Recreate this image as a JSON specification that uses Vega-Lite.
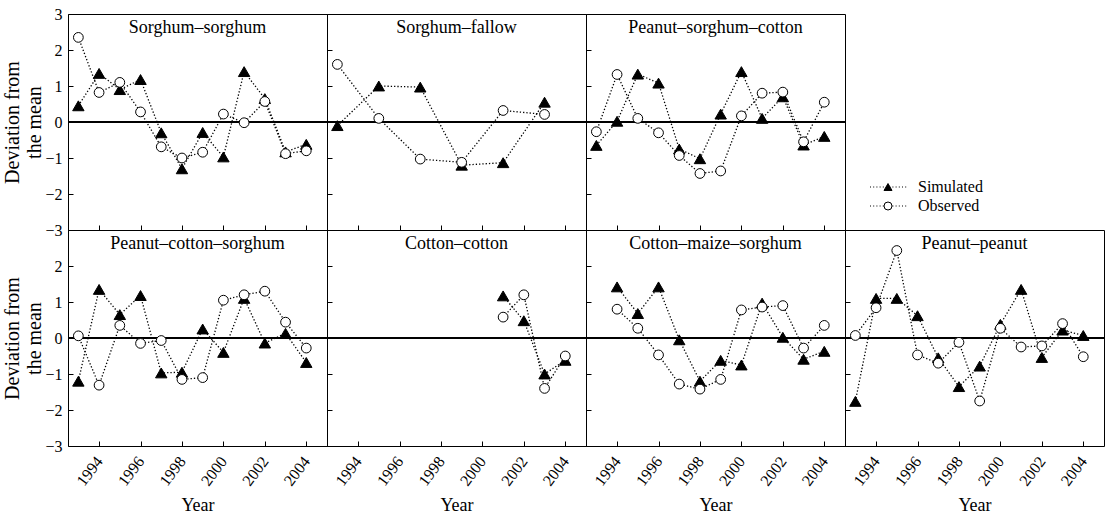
{
  "$schema": "https://vega.github.io/schema/vega-lite/v6.json",
  "padding": {"left": 2, "top": 5, "right": 0, "bottom": 0},
  "background": "white",
  "data": {"values": [
    {"rotation": "Sorghum–sorghum", "year": 1993, "Simulated": 0.45, "Observed": 2.35},
    {"rotation": "Sorghum–sorghum", "year": 1994, "Simulated": 1.35, "Observed": 0.82},
    {"rotation": "Sorghum–sorghum", "year": 1995, "Simulated": 0.9, "Observed": 1.1},
    {"rotation": "Sorghum–sorghum", "year": 1996, "Simulated": 1.18, "Observed": 0.28},
    {"rotation": "Sorghum–sorghum", "year": 1997, "Simulated": -0.3, "Observed": -0.69},
    {"rotation": "Sorghum–sorghum", "year": 1998, "Simulated": -1.3, "Observed": -1.0},
    {"rotation": "Sorghum–sorghum", "year": 1999, "Simulated": -0.29, "Observed": -0.84},
    {"rotation": "Sorghum–sorghum", "year": 2000, "Simulated": -0.97, "Observed": 0.22},
    {"rotation": "Sorghum–sorghum", "year": 2001, "Simulated": 1.4, "Observed": -0.02},
    {"rotation": "Sorghum–sorghum", "year": 2002, "Simulated": 0.65, "Observed": 0.57},
    {"rotation": "Sorghum–sorghum", "year": 2003, "Simulated": -0.83, "Observed": -0.88},
    {"rotation": "Sorghum–sorghum", "year": 2004, "Simulated": -0.62, "Observed": -0.8},
    {"rotation": "Sorghum–fallow", "year": 1993, "Simulated": -0.1, "Observed": 1.6},
    {"rotation": "Sorghum–fallow", "year": 1995, "Simulated": 1.0, "Observed": 0.1},
    {"rotation": "Sorghum–fallow", "year": 1997, "Simulated": 0.97, "Observed": -1.03},
    {"rotation": "Sorghum–fallow", "year": 1999, "Simulated": -1.2, "Observed": -1.12},
    {"rotation": "Sorghum–fallow", "year": 2001, "Simulated": -1.13, "Observed": 0.32},
    {"rotation": "Sorghum–fallow", "year": 2003, "Simulated": 0.55, "Observed": 0.21},
    {"rotation": "Peanut–sorghum–cotton", "year": 1993, "Simulated": -0.65, "Observed": -0.27},
    {"rotation": "Peanut–sorghum–cotton", "year": 1994, "Simulated": 0.02, "Observed": 1.32},
    {"rotation": "Peanut–sorghum–cotton", "year": 1995, "Simulated": 1.33, "Observed": 0.1},
    {"rotation": "Peanut–sorghum–cotton", "year": 1996, "Simulated": 1.08, "Observed": -0.3},
    {"rotation": "Peanut–sorghum–cotton", "year": 1997, "Simulated": -0.75, "Observed": -0.93},
    {"rotation": "Peanut–sorghum–cotton", "year": 1998, "Simulated": -1.02, "Observed": -1.43},
    {"rotation": "Peanut–sorghum–cotton", "year": 1999, "Simulated": 0.22, "Observed": -1.36},
    {"rotation": "Peanut–sorghum–cotton", "year": 2000, "Simulated": 1.4, "Observed": 0.17},
    {"rotation": "Peanut–sorghum–cotton", "year": 2001, "Simulated": 0.1, "Observed": 0.8},
    {"rotation": "Peanut–sorghum–cotton", "year": 2002, "Simulated": 0.7, "Observed": 0.83},
    {"rotation": "Peanut–sorghum–cotton", "year": 2003, "Simulated": -0.64, "Observed": -0.55},
    {"rotation": "Peanut–sorghum–cotton", "year": 2004, "Simulated": -0.4, "Observed": 0.55},
    {"rotation": "Peanut–cotton–sorghum", "year": 1993, "Simulated": -1.2, "Observed": 0.06},
    {"rotation": "Peanut–cotton–sorghum", "year": 1994, "Simulated": 1.35, "Observed": -1.31},
    {"rotation": "Peanut–cotton–sorghum", "year": 1995, "Simulated": 0.65, "Observed": 0.35},
    {"rotation": "Peanut–cotton–sorghum", "year": 1996, "Simulated": 1.18, "Observed": -0.15},
    {"rotation": "Peanut–cotton–sorghum", "year": 1997, "Simulated": -0.97, "Observed": -0.07},
    {"rotation": "Peanut–cotton–sorghum", "year": 1998, "Simulated": -0.95, "Observed": -1.15},
    {"rotation": "Peanut–cotton–sorghum", "year": 1999, "Simulated": 0.25, "Observed": -1.1},
    {"rotation": "Peanut–cotton–sorghum", "year": 2000, "Simulated": -0.4, "Observed": 1.05},
    {"rotation": "Peanut–cotton–sorghum", "year": 2001, "Simulated": 1.1, "Observed": 1.2},
    {"rotation": "Peanut–cotton–sorghum", "year": 2002, "Simulated": -0.14, "Observed": 1.3},
    {"rotation": "Peanut–cotton–sorghum", "year": 2003, "Simulated": 0.13, "Observed": 0.44},
    {"rotation": "Peanut–cotton–sorghum", "year": 2004, "Simulated": -0.68, "Observed": -0.28},
    {"rotation": "Cotton–cotton", "year": 2001, "Simulated": 1.17, "Observed": 0.58},
    {"rotation": "Cotton–cotton", "year": 2002, "Simulated": 0.48, "Observed": 1.2},
    {"rotation": "Cotton–cotton", "year": 2003, "Simulated": -1.0, "Observed": -1.4},
    {"rotation": "Cotton–cotton", "year": 2004, "Simulated": -0.62, "Observed": -0.5},
    {"rotation": "Cotton–maize–sorghum", "year": 1994, "Simulated": 1.42, "Observed": 0.8},
    {"rotation": "Cotton–maize–sorghum", "year": 1995, "Simulated": 0.68, "Observed": 0.27},
    {"rotation": "Cotton–maize–sorghum", "year": 1996, "Simulated": 1.42, "Observed": -0.47},
    {"rotation": "Cotton–maize–sorghum", "year": 1997, "Simulated": -0.05, "Observed": -1.28},
    {"rotation": "Cotton–maize–sorghum", "year": 1998, "Simulated": -1.2, "Observed": -1.42},
    {"rotation": "Cotton–maize–sorghum", "year": 1999, "Simulated": -0.62, "Observed": -1.15},
    {"rotation": "Cotton–maize–sorghum", "year": 2000, "Simulated": -0.75, "Observed": 0.78},
    {"rotation": "Cotton–maize–sorghum", "year": 2001, "Simulated": 0.97, "Observed": 0.86},
    {"rotation": "Cotton–maize–sorghum", "year": 2002, "Simulated": 0.02, "Observed": 0.9},
    {"rotation": "Cotton–maize–sorghum", "year": 2003, "Simulated": -0.59, "Observed": -0.28},
    {"rotation": "Cotton–maize–sorghum", "year": 2004, "Simulated": -0.37, "Observed": 0.35},
    {"rotation": "Peanut–peanut", "year": 1993, "Simulated": -1.76, "Observed": 0.07},
    {"rotation": "Peanut–peanut", "year": 1994, "Simulated": 1.1, "Observed": 0.84},
    {"rotation": "Peanut–peanut", "year": 1995, "Simulated": 1.1, "Observed": 2.43},
    {"rotation": "Peanut–peanut", "year": 1996, "Simulated": 0.62, "Observed": -0.47},
    {"rotation": "Peanut–peanut", "year": 1997, "Simulated": -0.55, "Observed": -0.7},
    {"rotation": "Peanut–peanut", "year": 1998, "Simulated": -1.35, "Observed": -0.12},
    {"rotation": "Peanut–peanut", "year": 1999, "Simulated": -0.78, "Observed": -1.75},
    {"rotation": "Peanut–peanut", "year": 2000, "Simulated": 0.38, "Observed": 0.27},
    {"rotation": "Peanut–peanut", "year": 2001, "Simulated": 1.35, "Observed": -0.25},
    {"rotation": "Peanut–peanut", "year": 2002, "Simulated": -0.54, "Observed": -0.22},
    {"rotation": "Peanut–peanut", "year": 2003, "Simulated": 0.22, "Observed": 0.4},
    {"rotation": "Peanut–peanut", "year": 2004, "Simulated": 0.07, "Observed": -0.52}
  ]},
  "transform": [{"fold": ["Simulated", "Observed"], "as": ["series", "value"]}],
  "columns": 4,
  "spacing": 0,
  "bounds": "flush",
  "concat": [
    {
      "width": 259, "height": 216,
      "transform": [{"filter": {"field": "rotation", "equal": "Sorghum–sorghum"}}],
      "layer": [
        {"mark": {"type": "rule", "color": "black", "strokeWidth": 1}, "encoding": {"y": {"datum": 0}}},
        {"mark": {"type": "line", "color": "black", "strokeDash": [1.3, 2], "strokeWidth": 1.3},
         "encoding": {
           "x": {"field": "year", "type": "quantitative", "scale": {"domain": [1992.5, 2005], "nice": false, "zero": false},
                 "axis": {"values": [1994, 1996, 1998, 2000, 2002, 2004], "labels": false, "title": null}},
           "y": {"field": "value", "type": "quantitative", "scale": {"domain": [-3, 3], "nice": false},
                 "axis": {"values": [-3, -2, -1, 0, 1, 2, 3], "tickCount": 20, "format": "d", "title": ["Deviation from", "the mean"]}},
           "detail": {"field": "series"}}},
        {"mark": {"type": "point", "stroke": "black", "strokeWidth": 1, "opacity": 1},
         "encoding": {
           "x": {"field": "year", "type": "quantitative"},
           "y": {"field": "value", "type": "quantitative"},
           "shape": {"field": "series", "type": "nominal", "scale": {"domain": ["Simulated", "Observed"], "range": ["triangle-up", "circle"]}, "legend": null},
           "fill": {"field": "series", "type": "nominal", "scale": {"domain": ["Simulated", "Observed"], "range": ["black", "white"]}, "legend": null},
           "size": {"field": "series", "type": "ordinal", "scale": {"domain": ["Observed", "Simulated"], "range": [95, 130]}, "legend": null}}},
        {"transform": [{"aggregate": [{"op": "count", "as": "n"}], "groupby": ["rotation"]}],
         "mark": {"type": "text", "fontSize": 18, "baseline": "top", "align": "center", "dy": 5, "color": "black"},
         "encoding": {"x": {"datum": 1998.75, "type": "quantitative"}, "y": {"datum": 3, "type": "quantitative"}, "text": {"field": "rotation"}}}
      ]
    },
    {
      "width": 259, "height": 216,
      "transform": [{"filter": {"field": "rotation", "equal": "Sorghum–fallow"}}],
      "layer": [
        {"mark": {"type": "rule", "color": "black", "strokeWidth": 1}, "encoding": {"y": {"datum": 0}}},
        {"mark": {"type": "line", "color": "black", "strokeDash": [1.3, 2], "strokeWidth": 1.3},
         "encoding": {
           "x": {"field": "year", "type": "quantitative", "scale": {"domain": [1992.5, 2005], "nice": false, "zero": false},
                 "axis": {"values": [1994, 1996, 1998, 2000, 2002, 2004], "labels": false, "title": null}},
           "y": {"field": "value", "type": "quantitative", "scale": {"domain": [-3, 3], "nice": false},
                 "axis": {"values": [-3, -2, -1, 0, 1, 2, 3], "tickCount": 20, "labels": false, "title": null}},
           "detail": {"field": "series"}}},
        {"mark": {"type": "point", "stroke": "black", "strokeWidth": 1, "opacity": 1},
         "encoding": {
           "x": {"field": "year", "type": "quantitative"},
           "y": {"field": "value", "type": "quantitative"},
           "shape": {"field": "series", "type": "nominal", "scale": {"domain": ["Simulated", "Observed"], "range": ["triangle-up", "circle"]}, "legend": null},
           "fill": {"field": "series", "type": "nominal", "scale": {"domain": ["Simulated", "Observed"], "range": ["black", "white"]}, "legend": null},
           "size": {"field": "series", "type": "ordinal", "scale": {"domain": ["Observed", "Simulated"], "range": [95, 130]}, "legend": null}}},
        {"transform": [{"aggregate": [{"op": "count", "as": "n"}], "groupby": ["rotation"]}],
         "mark": {"type": "text", "fontSize": 18, "baseline": "top", "align": "center", "dy": 5, "color": "black"},
         "encoding": {"x": {"datum": 1998.75, "type": "quantitative"}, "y": {"datum": 3, "type": "quantitative"}, "text": {"field": "rotation"}}}
      ]
    },
    {
      "width": 259, "height": 216,
      "transform": [{"filter": {"field": "rotation", "equal": "Peanut–sorghum–cotton"}}],
      "layer": [
        {"mark": {"type": "rule", "color": "black", "strokeWidth": 1}, "encoding": {"y": {"datum": 0}}},
        {"mark": {"type": "line", "color": "black", "strokeDash": [1.3, 2], "strokeWidth": 1.3},
         "encoding": {
           "x": {"field": "year", "type": "quantitative", "scale": {"domain": [1992.5, 2005], "nice": false, "zero": false},
                 "axis": {"values": [1994, 1996, 1998, 2000, 2002, 2004], "labels": false, "title": null}},
           "y": {"field": "value", "type": "quantitative", "scale": {"domain": [-3, 3], "nice": false},
                 "axis": {"values": [-3, -2, -1, 0, 1, 2, 3], "tickCount": 20, "labels": false, "title": null}},
           "detail": {"field": "series"}}},
        {"mark": {"type": "point", "stroke": "black", "strokeWidth": 1, "opacity": 1},
         "encoding": {
           "x": {"field": "year", "type": "quantitative"},
           "y": {"field": "value", "type": "quantitative"},
           "shape": {"field": "series", "type": "nominal", "scale": {"domain": ["Simulated", "Observed"], "range": ["triangle-up", "circle"]}, "legend": null},
           "fill": {"field": "series", "type": "nominal", "scale": {"domain": ["Simulated", "Observed"], "range": ["black", "white"]}, "legend": null},
           "size": {"field": "series", "type": "ordinal", "scale": {"domain": ["Observed", "Simulated"], "range": [95, 130]}, "legend": null}}},
        {"transform": [{"aggregate": [{"op": "count", "as": "n"}], "groupby": ["rotation"]}],
         "mark": {"type": "text", "fontSize": 18, "baseline": "top", "align": "center", "dy": 5, "color": "black"},
         "encoding": {"x": {"datum": 1998.75, "type": "quantitative"}, "y": {"datum": 3, "type": "quantitative"}, "text": {"field": "rotation"}}}
      ]
    },
    {
      "width": 259, "height": 216,
      "view": {"stroke": null},
      "data": {"values": [{"series": "Simulated"}, {"series": "Observed"}]},
      "layer": [
        {"mark": {"type": "rule", "color": "black", "strokeDash": [1, 2.2], "strokeWidth": 1.2},
         "encoding": {
           "x": {"datum": 25, "type": "quantitative", "scale": {"domain": [0, 259], "nice": false, "zero": false}, "axis": null},
           "x2": {"datum": 62},
           "y": {"field": "series", "type": "nominal", "scale": {"type": "point", "domain": ["Simulated", "Observed"], "range": [173, 192], "padding": 0}, "axis": null}}},
        {"mark": {"type": "point", "size": 64, "stroke": "black", "strokeWidth": 1, "opacity": 1},
         "encoding": {
           "x": {"datum": 43, "type": "quantitative"},
           "y": {"field": "series", "type": "nominal"},
           "shape": {"field": "series", "type": "nominal", "scale": {"domain": ["Simulated", "Observed"], "range": ["triangle-up", "circle"]}, "legend": null},
           "fill": {"field": "series", "type": "nominal", "scale": {"domain": ["Simulated", "Observed"], "range": ["black", "white"]}, "legend": null}}},
        {"mark": {"type": "text", "align": "left", "baseline": "middle", "fontSize": 16, "color": "black"},
         "encoding": {
           "x": {"datum": 73, "type": "quantitative"},
           "y": {"field": "series", "type": "nominal"},
           "text": {"field": "series"}}}
      ]
    },
    {
      "width": 259, "height": 216,
      "transform": [{"filter": {"field": "rotation", "equal": "Peanut–cotton–sorghum"}}],
      "layer": [
        {"mark": {"type": "rule", "color": "black", "strokeWidth": 1}, "encoding": {"y": {"datum": 0}}},
        {"mark": {"type": "line", "color": "black", "strokeDash": [1.3, 2], "strokeWidth": 1.3},
         "encoding": {
           "x": {"field": "year", "type": "quantitative", "scale": {"domain": [1992.5, 2005], "nice": false, "zero": false},
                 "axis": {"values": [1994, 1996, 1998, 2000, 2002, 2004], "format": "d", "title": "Year"}},
           "y": {"field": "value", "type": "quantitative", "scale": {"domain": [-3, 3], "nice": false},
                 "axis": {"values": [-3, -2, -1, 0, 1, 2], "tickCount": 20, "format": "d", "title": ["Deviation from", "the mean"]}},
           "detail": {"field": "series"}}},
        {"mark": {"type": "point", "stroke": "black", "strokeWidth": 1, "opacity": 1},
         "encoding": {
           "x": {"field": "year", "type": "quantitative"},
           "y": {"field": "value", "type": "quantitative"},
           "shape": {"field": "series", "type": "nominal", "scale": {"domain": ["Simulated", "Observed"], "range": ["triangle-up", "circle"]}, "legend": null},
           "fill": {"field": "series", "type": "nominal", "scale": {"domain": ["Simulated", "Observed"], "range": ["black", "white"]}, "legend": null},
           "size": {"field": "series", "type": "ordinal", "scale": {"domain": ["Observed", "Simulated"], "range": [95, 130]}, "legend": null}}},
        {"transform": [{"aggregate": [{"op": "count", "as": "n"}], "groupby": ["rotation"]}],
         "mark": {"type": "text", "fontSize": 18, "baseline": "top", "align": "center", "dy": 5, "color": "black"},
         "encoding": {"x": {"datum": 1998.75, "type": "quantitative"}, "y": {"datum": 3, "type": "quantitative"}, "text": {"field": "rotation"}}}
      ]
    },
    {
      "width": 259, "height": 216,
      "transform": [{"filter": {"field": "rotation", "equal": "Cotton–cotton"}}],
      "layer": [
        {"mark": {"type": "rule", "color": "black", "strokeWidth": 1}, "encoding": {"y": {"datum": 0}}},
        {"mark": {"type": "line", "color": "black", "strokeDash": [1.3, 2], "strokeWidth": 1.3},
         "encoding": {
           "x": {"field": "year", "type": "quantitative", "scale": {"domain": [1992.5, 2005], "nice": false, "zero": false},
                 "axis": {"values": [1994, 1996, 1998, 2000, 2002, 2004], "format": "d", "title": "Year"}},
           "y": {"field": "value", "type": "quantitative", "scale": {"domain": [-3, 3], "nice": false},
                 "axis": {"values": [-3, -2, -1, 0, 1, 2, 3], "tickCount": 20, "labels": false, "title": null}},
           "detail": {"field": "series"}}},
        {"mark": {"type": "point", "stroke": "black", "strokeWidth": 1, "opacity": 1},
         "encoding": {
           "x": {"field": "year", "type": "quantitative"},
           "y": {"field": "value", "type": "quantitative"},
           "shape": {"field": "series", "type": "nominal", "scale": {"domain": ["Simulated", "Observed"], "range": ["triangle-up", "circle"]}, "legend": null},
           "fill": {"field": "series", "type": "nominal", "scale": {"domain": ["Simulated", "Observed"], "range": ["black", "white"]}, "legend": null},
           "size": {"field": "series", "type": "ordinal", "scale": {"domain": ["Observed", "Simulated"], "range": [95, 130]}, "legend": null}}},
        {"transform": [{"aggregate": [{"op": "count", "as": "n"}], "groupby": ["rotation"]}],
         "mark": {"type": "text", "fontSize": 18, "baseline": "top", "align": "center", "dy": 5, "color": "black"},
         "encoding": {"x": {"datum": 1998.75, "type": "quantitative"}, "y": {"datum": 3, "type": "quantitative"}, "text": {"field": "rotation"}}}
      ]
    },
    {
      "width": 259, "height": 216,
      "transform": [{"filter": {"field": "rotation", "equal": "Cotton–maize–sorghum"}}],
      "layer": [
        {"mark": {"type": "rule", "color": "black", "strokeWidth": 1}, "encoding": {"y": {"datum": 0}}},
        {"mark": {"type": "line", "color": "black", "strokeDash": [1.3, 2], "strokeWidth": 1.3},
         "encoding": {
           "x": {"field": "year", "type": "quantitative", "scale": {"domain": [1992.5, 2005], "nice": false, "zero": false},
                 "axis": {"values": [1994, 1996, 1998, 2000, 2002, 2004], "format": "d", "title": "Year"}},
           "y": {"field": "value", "type": "quantitative", "scale": {"domain": [-3, 3], "nice": false},
                 "axis": {"values": [-3, -2, -1, 0, 1, 2, 3], "tickCount": 20, "labels": false, "title": null}},
           "detail": {"field": "series"}}},
        {"mark": {"type": "point", "stroke": "black", "strokeWidth": 1, "opacity": 1},
         "encoding": {
           "x": {"field": "year", "type": "quantitative"},
           "y": {"field": "value", "type": "quantitative"},
           "shape": {"field": "series", "type": "nominal", "scale": {"domain": ["Simulated", "Observed"], "range": ["triangle-up", "circle"]}, "legend": null},
           "fill": {"field": "series", "type": "nominal", "scale": {"domain": ["Simulated", "Observed"], "range": ["black", "white"]}, "legend": null},
           "size": {"field": "series", "type": "ordinal", "scale": {"domain": ["Observed", "Simulated"], "range": [95, 130]}, "legend": null}}},
        {"transform": [{"aggregate": [{"op": "count", "as": "n"}], "groupby": ["rotation"]}],
         "mark": {"type": "text", "fontSize": 18, "baseline": "top", "align": "center", "dy": 5, "color": "black"},
         "encoding": {"x": {"datum": 1998.75, "type": "quantitative"}, "y": {"datum": 3, "type": "quantitative"}, "text": {"field": "rotation"}}}
      ]
    },
    {
      "width": 259, "height": 216,
      "transform": [{"filter": {"field": "rotation", "equal": "Peanut–peanut"}}],
      "layer": [
        {"mark": {"type": "rule", "color": "black", "strokeWidth": 1}, "encoding": {"y": {"datum": 0}}},
        {"mark": {"type": "line", "color": "black", "strokeDash": [1.3, 2], "strokeWidth": 1.3},
         "encoding": {
           "x": {"field": "year", "type": "quantitative", "scale": {"domain": [1992.5, 2005], "nice": false, "zero": false},
                 "axis": {"values": [1994, 1996, 1998, 2000, 2002, 2004], "format": "d", "title": "Year"}},
           "y": {"field": "value", "type": "quantitative", "scale": {"domain": [-3, 3], "nice": false},
                 "axis": {"values": [-3, -2, -1, 0, 1, 2, 3], "tickCount": 20, "labels": false, "title": null}},
           "detail": {"field": "series"}}},
        {"mark": {"type": "point", "stroke": "black", "strokeWidth": 1, "opacity": 1},
         "encoding": {
           "x": {"field": "year", "type": "quantitative"},
           "y": {"field": "value", "type": "quantitative"},
           "shape": {"field": "series", "type": "nominal", "scale": {"domain": ["Simulated", "Observed"], "range": ["triangle-up", "circle"]}, "legend": null},
           "fill": {"field": "series", "type": "nominal", "scale": {"domain": ["Simulated", "Observed"], "range": ["black", "white"]}, "legend": null},
           "size": {"field": "series", "type": "ordinal", "scale": {"domain": ["Observed", "Simulated"], "range": [95, 130]}, "legend": null}}},
        {"transform": [{"aggregate": [{"op": "count", "as": "n"}], "groupby": ["rotation"]}],
         "mark": {"type": "text", "fontSize": 18, "baseline": "top", "align": "center", "dy": 5, "color": "black"},
         "encoding": {"x": {"datum": 1998.75, "type": "quantitative"}, "y": {"datum": 3, "type": "quantitative"}, "text": {"field": "rotation"}}}
      ]
    }
  ],
  "config": {
    "font": "Liberation Serif",
    "view": {"stroke": "black", "strokeWidth": 1},
    "concat": {"spacing": 0},
    "axis": {"grid": false, "domain": false, "ticks": true, "tickColor": "black", "tickWidth": 1, "tickSize": -5,
             "labelColor": "black", "labelFont": "Liberation Serif", "labelFontSize": 16, "labelFlush": false, "labelOverlap": false,
             "titleFont": "Liberation Serif", "titleFontWeight": "normal", "titleColor": "black"},
    "axisY": {"labelPadding": 11, "titleFontSize": 20, "titleLineHeight": 22, "titlePadding": 0},
    "axisX": {"tickCount": 20, "labelAngle": -53, "labelAlign": "right", "labelBaseline": "middle", "labelPadding": 17, "titleFontSize": 18, "titlePadding": 8}
  }
}
